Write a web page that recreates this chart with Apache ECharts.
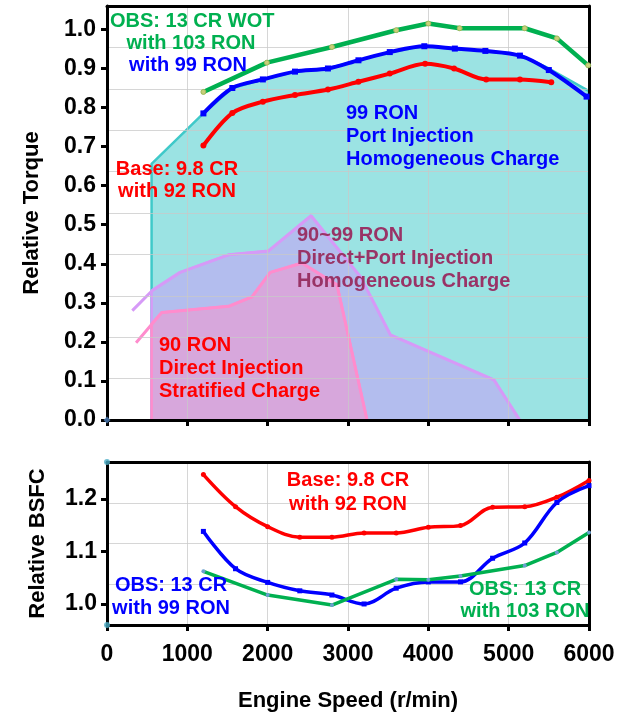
<!DOCTYPE html>
<html>
<head>
<meta charset="utf-8">
<script src="https://cdn.jsdelivr.net/npm/echarts@6/dist/echarts.min.js"></script>
<style>
html,body{margin:0;padding:0;background:#fff;}
#chart{width:629px;height:715px;}
</style>
</head>
<body>
<div id="chart"></div>
<script>
// ---- Torque (top panel) ----
const torqueTicks = [0, 0.1, 0.2, 0.3, 0.4, 0.5, 0.6, 0.7, 0.8, 0.9, 1.0];
const wotSpeed = [1200, 1990, 2800, 3600, 4000, 4390, 5200, 5600, 5990];
const wotTorque103 = [0.84, 0.915, 0.955, 0.998, 1.015, 1.003, 1.003, 0.977, 0.908];
const obsSpeed = [1200, 1560, 1940, 2340, 2750, 3130, 3520, 3950, 4330, 4710, 5140, 5500, 5970];
const obsTorque99 = [0.785, 0.85, 0.872, 0.892, 0.900, 0.921, 0.942, 0.957, 0.951, 0.945, 0.933, 0.896, 0.828];
const baseSpeed = [1200, 1560, 1940, 2340, 2750, 3130, 3520, 3960, 4320, 4720, 5140, 5530];
const baseTorque92 = [0.703, 0.786, 0.815, 0.832, 0.846, 0.866, 0.887, 0.912, 0.900, 0.872, 0.872, 0.865];

// operating regions
const regionEdgeSpeed = 555;
const portSpeed = [555, 555, 1200, 1560, 1940, 2340, 2750, 3130, 3520, 3950, 4330, 4710, 5140, 5500, 6000, 6000];
const portTorque = [0, 0.656, 0.785, 0.85, 0.872, 0.892, 0.900, 0.921, 0.942, 0.957, 0.951, 0.945, 0.935, 0.90, 0.842, 0];
const dpiSpeed = [315, 570, 910, 1513, 2011, 2540, 3154, 3528, 4816, 5137];
const dpiTorque = [0.28, 0.333, 0.378, 0.423, 0.433, 0.523, 0.367, 0.218, 0.103, 0];
const dpiEdgeTorque = 0.33;
const sdiSpeed = [362, 681, 1513, 1804, 2032, 2427, 2863, 3237];
const sdiTorque = [0.198, 0.275, 0.291, 0.315, 0.378, 0.402, 0.346, 0];
const sdiEdgeTorque = 0.246;

// ---- BSFC (bottom panel) ----
const speedTicks = [0, 1000, 2000, 3000, 4000, 5000, 6000];
const bsfcTicks = [1.0, 1.1, 1.2];
const bsfcSpeed = [1200, 1600, 2000, 2400, 2800, 3200, 3600, 4000, 4400, 4800, 5200, 5600, 6000];
const bsfcBase92 = [1.246, 1.185, 1.147, 1.127, 1.127, 1.135, 1.135, 1.146, 1.149, 1.184, 1.185, 1.203, 1.235];
const bsfcObs99 = [1.138, 1.067, 1.041, 1.025, 1.017, 1.0, 1.030, 1.042, 1.042, 1.087, 1.116, 1.193, 1.225];
const bsfc103Speed = [1200, 2000, 2800, 3600, 4000, 4400, 5200, 5600, 6000];
const bsfcObs103 = [1.062, 1.017, 0.998, 1.047, 1.046, 1.053, 1.073, 1.098, 1.136];
const bsfcRangeDots = [1.27, 0.96];

const zip = (xs, ys) => xs.map((x, i) => [x, ys[i]]);
const FONT = '"Liberation Sans", Arial, sans-serif';
const chart = echarts.init(document.getElementById('chart'));

const frameAxisX = (grid) => ({
  gridIndex: grid, type: 'value', position: 'top', min: 0, max: 6000, z: 10,
  axisLine: {show: true, onZero: false, lineStyle: {color: '#000', width: 3}},
  axisTick: {show: false}, axisLabel: {show: false}, splitLine: {show: false}
});

const lblStyle = {color: '#000', fontFamily: FONT, fontWeight: 'bold', fontSize: 23};
const nameStyle = {color: '#000', fontFamily: FONT, fontWeight: 'bold', fontSize: 22};
const gridLine = {show: true, lineStyle: {color: 'rgba(200,200,200,0.75)', width: 1}};

const textEl = (t, x, y, color, align) => ({
  type: 'text', x: x, y: y, z: 100,
  style: {text: t, fill: color, font: 'bold 20px ' + FONT, align: align || 'left', verticalAlign: 'middle'}
});

chart.setOption({
  animation: false,
  grid: [
    {left: 107, top: 6, width: 482, height: 414},
    {left: 107, top: 462, width: 482, height: 163}
  ],
  xAxis: [
    {gridIndex: 0, type: 'value', min: 0, max: 6000, interval: 1000, z: 10,
     axisLine: {onZero: false, lineStyle: {color: '#000', width: 3}},
     axisTick: {length: 6, lineStyle: {color: '#000', width: 3}},
     axisLabel: {show: false},
     splitLine: gridLine},
    frameAxisX(0),
    {gridIndex: 1, type: 'value', min: 0, max: 6000, interval: 1000, z: 10,
     axisLine: {onZero: false, lineStyle: {color: '#000', width: 3}},
     axisTick: {length: 6, customValues: speedTicks, lineStyle: {color: '#000', width: 3}},
     axisLabel: Object.assign({margin: 18, customValues: speedTicks, formatter: v => String(v)}, lblStyle),
     splitLine: gridLine,
     name: 'Engine Speed (r/min)', nameLocation: 'middle', nameGap: 65,
     nameTextStyle: nameStyle},
    frameAxisX(1)
  ],
  yAxis: [
    {gridIndex: 0, type: 'value', min: 0, max: 1.06, z: 10,
     axisLine: {show: true, onZero: false, lineStyle: {color: '#000', width: 3}},
     axisTick: {show: true, length: 6, customValues: torqueTicks, lineStyle: {color: '#000', width: 3}},
     axisLabel: Object.assign({margin: 11, customValues: torqueTicks, formatter: v => v.toFixed(1)}, lblStyle),
     splitLine: {show: false},
     name: 'Relative Torque', nameLocation: 'middle', nameGap: 64, nameRotate: 90,
     nameTextStyle: nameStyle},
    {gridIndex: 0, type: 'value', position: 'right', min: 0, max: 10, interval: 1, z: 10,
     axisLine: {show: true, onZero: false, lineStyle: {color: '#000', width: 3}},
     axisTick: {show: false}, axisLabel: {show: false},
     splitLine: gridLine},
    {gridIndex: 1, type: 'value', min: 0.96, max: 1.27, z: 10,
     axisLine: {show: true, onZero: false, lineStyle: {color: '#000', width: 3}},
     axisTick: {show: true, length: 6, customValues: bsfcTicks, lineStyle: {color: '#000', width: 3}},
     axisLabel: Object.assign({margin: 10, customValues: bsfcTicks, formatter: v => v.toFixed(1)}, lblStyle),
     splitLine: {show: false},
     name: 'Relative BSFC', nameLocation: 'middle', nameGap: 58, nameRotate: 90,
     nameTextStyle: nameStyle},
    {gridIndex: 1, type: 'value', position: 'right', min: 0, max: 4, interval: 1, z: 10,
     axisLine: {show: true, onZero: false, lineStyle: {color: '#000', width: 3}},
     axisTick: {show: false}, axisLabel: {show: false},
     splitLine: gridLine}
  ],
  series: [
    // regions
    {type: 'line', xAxisIndex: 0, yAxisIndex: 0, z: 2, symbol: 'none',
     data: zip(portSpeed, portTorque),
     lineStyle: {color: '#3fc9c9', width: 2.5}, areaStyle: {color: '#9be3e3', opacity: 1}},
    {type: 'line', xAxisIndex: 0, yAxisIndex: 0, z: 3, symbol: 'none',
     data: [[regionEdgeSpeed, 0], [regionEdgeSpeed, dpiEdgeTorque]].concat(zip(dpiSpeed, dpiTorque).slice(1)),
     lineStyle: {color: '#d69af7', width: 2.5}, areaStyle: {color: '#b3bdee', opacity: 1}},
    {type: 'line', xAxisIndex: 0, yAxisIndex: 0, z: 4, symbol: 'none',
     data: zip(dpiSpeed, dpiTorque), lineStyle: {color: '#d69af7', width: 3}},
    {type: 'line', xAxisIndex: 0, yAxisIndex: 0, z: 5, symbol: 'none',
     data: [[regionEdgeSpeed, 0], [regionEdgeSpeed, sdiEdgeTorque]].concat(zip(sdiSpeed, sdiTorque).slice(1)),
     lineStyle: {color: '#ff8ccd', width: 2.5}, areaStyle: {color: '#d7a7dc', opacity: 1}},
    {type: 'line', xAxisIndex: 0, yAxisIndex: 0, z: 6, symbol: 'none',
     data: zip(sdiSpeed, sdiTorque), lineStyle: {color: '#ff8ccd', width: 3}},
    // torque curves
    {type: 'line', xAxisIndex: 0, yAxisIndex: 0, z: 20, smooth: 0.3,
     data: zip(baseSpeed, baseTorque92), symbol: 'circle', symbolSize: 6,
     itemStyle: {color: '#ff0000'}, lineStyle: {color: '#ff0000', width: 4}},
    {type: 'line', xAxisIndex: 0, yAxisIndex: 0, z: 21, smooth: 0.3,
     data: zip(obsSpeed, obsTorque99), symbol: 'rect', symbolSize: 6,
     itemStyle: {color: '#0000ff'}, lineStyle: {color: '#0000ff', width: 4}},
    {type: 'line', xAxisIndex: 0, yAxisIndex: 0, z: 22,
     data: zip(wotSpeed, wotTorque103), symbol: 'circle', symbolSize: 5,
     itemStyle: {color: '#c9cf7a', borderColor: '#9bb85a', borderWidth: 1}, lineStyle: {color: '#00b050', width: 4.5}},
    {type: 'scatter', xAxisIndex: 0, yAxisIndex: 0, z: 23, symbol: 'diamond', symbolSize: 7,
     data: [[0, torqueTicks[0]]], itemStyle: {color: '#4f81bd'}},
    // BSFC curves
    {type: 'line', xAxisIndex: 2, yAxisIndex: 2, z: 20, smooth: 0.35,
     data: zip(bsfcSpeed, bsfcBase92), symbol: 'circle', symbolSize: 5,
     itemStyle: {color: '#ff0000'}, lineStyle: {color: '#ff0000', width: 3.5}},
    {type: 'line', xAxisIndex: 2, yAxisIndex: 2, z: 21, smooth: 0.35,
     data: zip(bsfcSpeed, bsfcObs99), symbol: 'rect', symbolSize: 5,
     itemStyle: {color: '#0000ff'}, lineStyle: {color: '#0000ff', width: 3.5}},
    {type: 'line', xAxisIndex: 2, yAxisIndex: 2, z: 22,
     data: zip(bsfc103Speed, bsfcObs103), symbol: 'circle', symbolSize: 4,
     itemStyle: {color: '#6a9fd0'}, lineStyle: {color: '#00b050', width: 3.5}},
    {type: 'scatter', xAxisIndex: 2, yAxisIndex: 2, z: 23, symbolSize: 6,
     data: bsfcRangeDots.map(v => [0, v]), itemStyle: {color: '#4bacc6'}}
  ],
  graphic: [
    textEl('OBS: 13 CR WOT', 110, 21, '#00b050'),
    textEl('with 103 RON', 191, 43, '#00b050', 'center'),
    textEl('with 99 RON', 188, 65, '#0000ff', 'center'),
    textEl('99 RON', 346, 113, '#0000ff'),
    textEl('Port Injection', 346, 136, '#0000ff'),
    textEl('Homogeneous Charge', 346, 159, '#0000ff'),
    textEl('Base: 9.8 CR', 177, 169, '#ff0000', 'center'),
    textEl('with 92 RON', 177, 191, '#ff0000', 'center'),
    textEl('90~99 RON', 297, 235, '#993366'),
    textEl('Direct+Port Injection', 297, 258, '#993366'),
    textEl('Homogeneous Charge', 297, 281, '#993366'),
    textEl('90 RON', 159, 345, '#ff0000'),
    textEl('Direct Injection', 159, 368, '#ff0000'),
    textEl('Stratified Charge', 159, 391, '#ff0000'),
    textEl('Base: 9.8 CR', 348, 480, '#ff0000', 'center'),
    textEl('with 92 RON', 348, 504, '#ff0000', 'center'),
    textEl('OBS: 13 CR', 171, 585, '#0000ff', 'center'),
    textEl('with 99 RON', 171, 608, '#0000ff', 'center'),
    textEl('OBS: 13 CR', 525, 589, '#00b050', 'center'),
    textEl('with 103 RON', 525, 611, '#00b050', 'center')
  ]
});
</script>
</body>
</html>
